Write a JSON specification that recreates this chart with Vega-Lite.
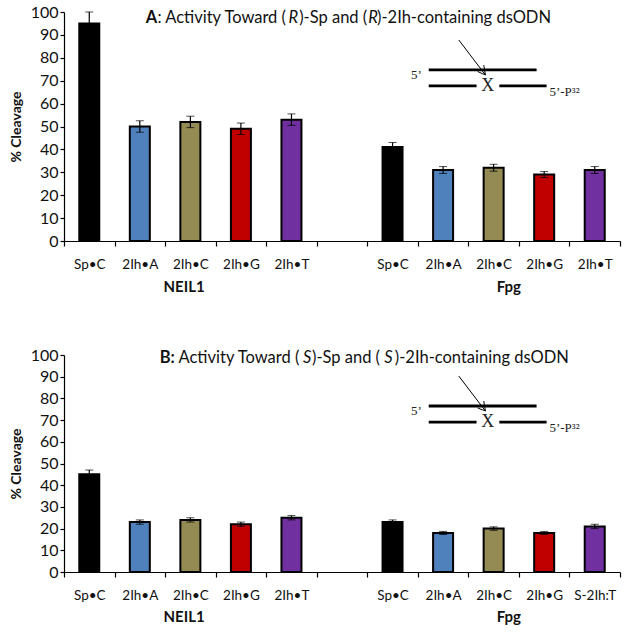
{"$schema":"https://vega.github.io/schema/vega-lite/v6.json","autosize":{"type":"pad"},"padding":{"left":9,"top":4,"right":8,"bottom":5},"background":"white","bounds":"flush","spacing":114,"config":{"view":{"stroke":null},"font":"Lato","axisY":{"tickCount":11,"titleFontSize":14,"titleFontWeight":"bold","titleColor":"#111","titlePadding":7,"labelFontSize":16,"labelColor":"#111","tickSize":4,"tickColor":"black","domainColor":"black","domainWidth":1.2,"tickWidth":1.2,"grid":false}},
"datasets":{"a":[
{"key":"NEIL1|Sp•C","lig":"Sp","v":95,"low":90,"high":100},{"key":"NEIL1|2Ih•A","lig":"A","v":50,"low":47.5,"high":52.5},{"key":"NEIL1|2Ih•C","lig":"C","v":52,"low":49.5,"high":54.5},{"key":"NEIL1|2Ih•G","lig":"G","v":49,"low":46.5,"high":51.5},{"key":"NEIL1|2Ih•T","lig":"T","v":53,"low":50.5,"high":55.5},
{"key":"Fpg|Sp•C","lig":"Sp","v":41,"low":39,"high":43},{"key":"Fpg|2Ih•A","lig":"A","v":31,"low":29.5,"high":32.5},{"key":"Fpg|2Ih•C","lig":"C","v":32,"low":30.5,"high":33.5},{"key":"Fpg|2Ih•G","lig":"G","v":29,"low":27.7,"high":30.3},{"key":"Fpg|2Ih•T","lig":"T","v":31,"low":29.5,"high":32.5}],
"b":[
{"key":"NEIL1|Sp•C","lig":"Sp","v":45,"low":43,"high":47},{"key":"NEIL1|2Ih•A","lig":"A","v":23,"low":22,"high":24},{"key":"NEIL1|2Ih•C","lig":"C","v":24,"low":23,"high":25},{"key":"NEIL1|2Ih•G","lig":"G","v":22,"low":21,"high":23},{"key":"NEIL1|2Ih•T","lig":"T","v":25,"low":24,"high":26},
{"key":"Fpg|Sp•C","lig":"Sp","v":23,"low":22,"high":24},{"key":"Fpg|2Ih•A","lig":"A","v":18,"low":17.3,"high":18.7},{"key":"Fpg|2Ih•C","lig":"C","v":20,"low":19.2,"high":20.8},{"key":"Fpg|2Ih•G","lig":"G","v":18,"low":17.3,"high":18.7},{"key":"Fpg|S-2Ih:T","lig":"T","v":21,"low":20,"high":22}]},
"vconcat":[
{"width":556,"height":229,"resolve":{"scale":{"x":"independent"},"axis":{"x":"independent"}},"layer":[
{"data":{"name":"a"},"layer":[
{"mark":{"type":"bar","width":20,"stroke":"black","strokeWidth":2},"encoding":{"x":{"field":"key","type":"nominal","sort":null,"scale":{"domain":["NEIL1|Sp•C","NEIL1|2Ih•A","NEIL1|2Ih•C","NEIL1|2Ih•G","NEIL1|2Ih•T","gap| ","Fpg|Sp•C","Fpg|2Ih•A","Fpg|2Ih•C","Fpg|2Ih•G","Fpg|2Ih•T"],"paddingInner":0,"paddingOuter":0},"axis":{"title":null,"tickBand":"extent","labelAngle":0,"labelExpr":"split(datum.label,'|')[1]","labelFontSize":13.5,"labelColor":"#111","labelPadding":11,"tickSize":5,"tickColor":"black","domainColor":"black","domainWidth":1.2,"tickWidth":1.2,"grid":false}},"y":{"field":"v","type":"quantitative","title":"% Cleavage","scale":{"domain":[0,100]}},"color":{"field":"lig","type":"nominal","legend":null,"scale":{"domain":["Sp","A","C","G","T"],"range":["#000000","#4F81BD","#948A54","#C00000","#7030A0"]}}}},
{"mark":{"type":"errorbar","ticks":{"size":8,"color":"black","strokeWidth":1.2},"rule":{"color":"black","strokeWidth":1.2}},"encoding":{"x":{"field":"key","type":"nominal"},"y":{"field":"low","type":"quantitative","title":"% Cleavage"},"y2":{"field":"high"}}}]},
{"data":{"values":[{"x":14.7,"y":97.2,"t":"A"}]},"mark":{"type":"text","align":"left","baseline":"middle","fontSize":16.5,"fontWeight":"bold","color":"#111"},"encoding":{"x":{"field":"x","type":"quantitative","scale":{"domain":[0,100]},"axis":null},"y":{"field":"y","type":"quantitative","title":"% Cleavage"},"text":{"field":"t"}}},
{"data":{"values":[{"x":16.8,"y":97.2,"t":": Activity Toward ("},{"x":42.3,"y":97.2,"t":")-Sp and ("},{"x":56.3,"y":97.2,"t":")-2Ih-containing dsODN"}]},"mark":{"type":"text","align":"left","baseline":"middle","fontSize":16.5,"color":"#111"},"encoding":{"x":{"field":"x","type":"quantitative","scale":{"domain":[0,100]},"axis":null},"y":{"field":"y","type":"quantitative","title":"% Cleavage"},"text":{"field":"t"}}},
{"data":{"values":[{"x":40.4,"y":97.2,"t":"R"},{"x":54.7,"y":97.2,"t":"R"}]},"mark":{"type":"text","align":"left","baseline":"middle","fontSize":16.5,"fontStyle":"italic","color":"#111"},"encoding":{"x":{"field":"x","type":"quantitative","scale":{"domain":[0,100]},"axis":null},"y":{"field":"y","type":"quantitative","title":"% Cleavage"},"text":{"field":"t"}}},
{"data":{"values":[{"x":21.6,"y":-20.1,"t":"NEIL1"},{"x":80,"y":-20.1,"t":"Fpg"}]},"mark":{"type":"text","align":"center","baseline":"middle","fontSize":15,"fontWeight":"bold","color":"#111"},"encoding":{"x":{"field":"x","type":"quantitative","scale":{"domain":[0,100]},"axis":null},"y":{"field":"y","type":"quantitative","title":"% Cleavage"},"text":{"field":"t"}}},
{"data":{"values":[{"x":65.6,"y":74.7,"x2":85,"y2":74.7},{"x":65.6,"y":67.7,"x2":74.2,"y2":67.7},{"x":78.3,"y":67.7,"x2":86.8,"y2":67.7}]},"mark":{"type":"rule","strokeWidth":2.8,"color":"black"},"encoding":{"x":{"field":"x","type":"quantitative","scale":{"domain":[0,100]},"axis":null},"y":{"field":"y","type":"quantitative","title":"% Cleavage"},"x2":{"field":"x2"},"y2":{"field":"y2"}}},
{"data":{"values":[{"x":71,"y":87.8,"x2":75.8,"y2":72.5},{"x":74.4,"y":74,"x2":75.8,"y2":72.5},{"x":75.5,"y":76.8,"x2":75.8,"y2":72.5}]},"mark":{"type":"rule","strokeWidth":1,"color":"black"},"encoding":{"x":{"field":"x","type":"quantitative","scale":{"domain":[0,100]},"axis":null},"y":{"field":"y","type":"quantitative","title":"% Cleavage"},"x2":{"field":"x2"},"y2":{"field":"y2"}}},
{"data":{"values":[{"x":62.4,"y":72.5,"t":"5’"},{"x":87.3,"y":65.1,"t":"5’-P³²"}]},"mark":{"type":"text","align":"left","baseline":"middle","font":"Liberation Serif","fontSize":13,"color":"#222"},"encoding":{"x":{"field":"x","type":"quantitative","scale":{"domain":[0,100]},"axis":null},"y":{"field":"y","type":"quantitative","title":"% Cleavage"},"text":{"field":"t"}}},
{"data":{"values":[{"x":76.2,"y":67.7,"t":"X"}]},"mark":{"type":"text","align":"center","baseline":"middle","font":"Liberation Serif","fontSize":18,"color":"#222"},"encoding":{"x":{"field":"x","type":"quantitative","scale":{"domain":[0,100]},"axis":null},"y":{"field":"y","type":"quantitative","title":"% Cleavage"},"text":{"field":"t"}}}
]},
{"width":556,"height":217,"resolve":{"scale":{"x":"independent"},"axis":{"x":"independent"}},"layer":[
{"data":{"name":"b"},"layer":[
{"mark":{"type":"bar","width":20,"stroke":"black","strokeWidth":2},"encoding":{"x":{"field":"key","type":"nominal","sort":null,"scale":{"domain":["NEIL1|Sp•C","NEIL1|2Ih•A","NEIL1|2Ih•C","NEIL1|2Ih•G","NEIL1|2Ih•T","gap| ","Fpg|Sp•C","Fpg|2Ih•A","Fpg|2Ih•C","Fpg|2Ih•G","Fpg|S-2Ih:T"],"paddingInner":0,"paddingOuter":0},"axis":{"title":null,"tickBand":"extent","labelAngle":0,"labelExpr":"split(datum.label,'|')[1]","labelFontSize":13.5,"labelColor":"#111","labelPadding":11,"tickSize":5,"tickColor":"black","domainColor":"black","domainWidth":1.2,"tickWidth":1.2,"grid":false}},"y":{"field":"v","type":"quantitative","title":"% Cleavage","scale":{"domain":[0,100]}},"color":{"field":"lig","type":"nominal","legend":null,"scale":{"domain":["Sp","A","C","G","T"],"range":["#000000","#4F81BD","#948A54","#C00000","#7030A0"]}}}},
{"mark":{"type":"errorbar","ticks":{"size":8,"color":"black","strokeWidth":1.2},"rule":{"color":"black","strokeWidth":1.2}},"encoding":{"x":{"field":"key","type":"nominal"},"y":{"field":"low","type":"quantitative","title":"% Cleavage"},"y2":{"field":"high"}}}]},
{"data":{"values":[{"x":17.2,"y":98.4,"t":"B:"}]},"mark":{"type":"text","align":"left","baseline":"middle","fontSize":16.5,"fontWeight":"bold","color":"#111"},"encoding":{"x":{"field":"x","type":"quantitative","scale":{"domain":[0,100]},"axis":null},"y":{"field":"y","type":"quantitative","title":"% Cleavage"},"text":{"field":"t"}}},
{"data":{"values":[{"x":20.6,"y":98.4,"t":"Activity Toward ("},{"x":44.6,"y":98.4,"t":")-Sp and ("},{"x":59.5,"y":98.4,"t":")-2Ih-containing dsODN"}]},"mark":{"type":"text","align":"left","baseline":"middle","fontSize":16.5,"color":"#111"},"encoding":{"x":{"field":"x","type":"quantitative","scale":{"domain":[0,100]},"axis":null},"y":{"field":"y","type":"quantitative","title":"% Cleavage"},"text":{"field":"t"}}},
{"data":{"values":[{"x":43,"y":98.4,"t":"S"},{"x":57.6,"y":98.4,"t":"S"}]},"mark":{"type":"text","align":"left","baseline":"middle","fontSize":16.5,"fontStyle":"italic","color":"#111"},"encoding":{"x":{"field":"x","type":"quantitative","scale":{"domain":[0,100]},"axis":null},"y":{"field":"y","type":"quantitative","title":"% Cleavage"},"text":{"field":"t"}}},
{"data":{"values":[{"x":21.6,"y":-20.7,"t":"NEIL1"},{"x":80,"y":-20.7,"t":"Fpg"}]},"mark":{"type":"text","align":"center","baseline":"middle","fontSize":15,"fontWeight":"bold","color":"#111"},"encoding":{"x":{"field":"x","type":"quantitative","scale":{"domain":[0,100]},"axis":null},"y":{"field":"y","type":"quantitative","title":"% Cleavage"},"text":{"field":"t"}}},
{"data":{"values":[{"x":65.6,"y":76.5,"x2":85,"y2":76.5},{"x":65.6,"y":69.1,"x2":74.2,"y2":69.1},{"x":78.3,"y":69.1,"x2":86.8,"y2":69.1}]},"mark":{"type":"rule","strokeWidth":2.8,"color":"black"},"encoding":{"x":{"field":"x","type":"quantitative","scale":{"domain":[0,100]},"axis":null},"y":{"field":"y","type":"quantitative","title":"% Cleavage"},"x2":{"field":"x2"},"y2":{"field":"y2"}}},
{"data":{"values":[{"x":71,"y":90.3,"x2":75.8,"y2":74.2},{"x":74.4,"y":75.6,"x2":75.8,"y2":74.2},{"x":75.5,"y":78.8,"x2":75.8,"y2":74.2}]},"mark":{"type":"rule","strokeWidth":1,"color":"black"},"encoding":{"x":{"field":"x","type":"quantitative","scale":{"domain":[0,100]},"axis":null},"y":{"field":"y","type":"quantitative","title":"% Cleavage"},"x2":{"field":"x2"},"y2":{"field":"y2"}}},
{"data":{"values":[{"x":62.4,"y":74.2,"t":"5’"},{"x":87.3,"y":66.4,"t":"5’-P³²"}]},"mark":{"type":"text","align":"left","baseline":"middle","font":"Liberation Serif","fontSize":13,"color":"#222"},"encoding":{"x":{"field":"x","type":"quantitative","scale":{"domain":[0,100]},"axis":null},"y":{"field":"y","type":"quantitative","title":"% Cleavage"},"text":{"field":"t"}}},
{"data":{"values":[{"x":76.2,"y":69.1,"t":"X"}]},"mark":{"type":"text","align":"center","baseline":"middle","font":"Liberation Serif","fontSize":18,"color":"#222"},"encoding":{"x":{"field":"x","type":"quantitative","scale":{"domain":[0,100]},"axis":null},"y":{"field":"y","type":"quantitative","title":"% Cleavage"},"text":{"field":"t"}}}
]}
]}
